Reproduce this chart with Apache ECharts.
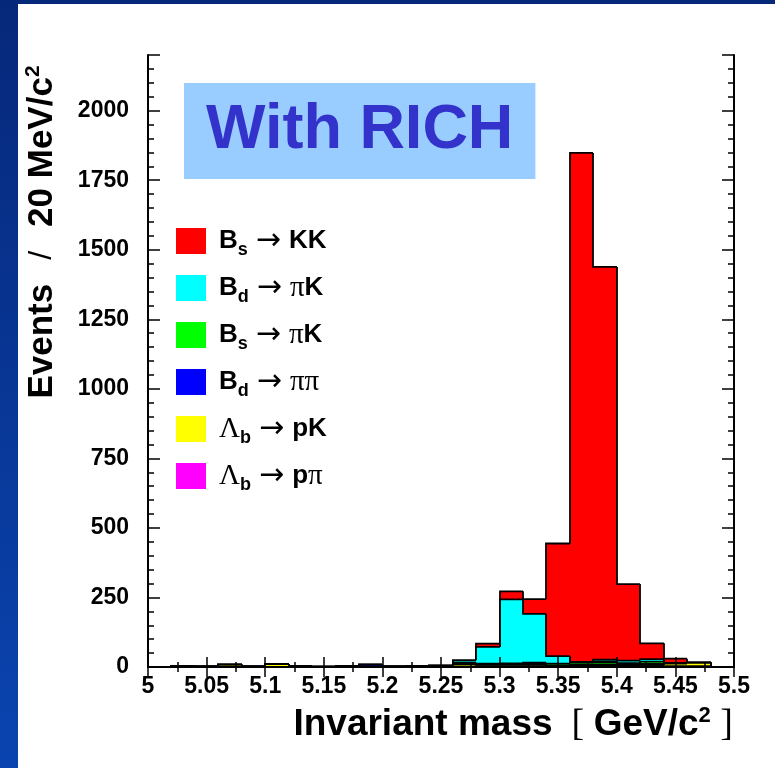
<!DOCTYPE html>
<html>
<head>
<meta charset="utf-8">
<script src="https://cdn.jsdelivr.net/npm/echarts@6/dist/echarts.min.js"></script>
<style>
  html, body { margin: 0; padding: 0; background: #fff; }
  #chart { width: 775px; height: 768px; }
</style>
</head>
<body>
<div id="chart"></div>
<script>
// bin lower edges (GeV/c^2), 20 MeV/c^2 wide
const binWidth = 0.02;
const binLow = [5.00, 5.02, 5.04, 5.06, 5.08, 5.10, 5.12, 5.14, 5.16, 5.18,
                5.20, 5.22, 5.24, 5.26, 5.28, 5.30, 5.32, 5.34, 5.36, 5.38,
                5.40, 5.42, 5.44, 5.46, 5.48];

// events per bin for each channel
const bsKK   = [0, 0, 0, 0, 0, 0, 0, 0, 0, 0, 0, 4, 0, 0, 12, 29, 53, 405, 1830, 1412, 275, 57, 16, 2, 0];
const bdPiK  = [0, 0, 0, 0, 0, 0, 0, 0, 0, 0, 0, 0, 0, 8, 60, 230, 175, 27, 2, 8, 9, 9, 0, 0, 0];
const bsPiK  = [0, 0, 0, 0, 0, 0, 0, 0, 0, 0, 0, 0, 0, 6, 4, 5, 5, 6, 8, 9, 4, 8, 2, 0, 0];
const bdPiPi = [0, 3, 2, 0, 2, 0, 3, 1, 3, 8, 2, 0, 2, 0, 0, 0, 3, 2, 3, 4, 3, 4, 0, 0, 0];
const lbPK   = [0, 0, 0, 8, 0, 10, 0, 0, 0, 0, 0, 0, 0, 8, 5, 5, 5, 4, 5, 5, 5, 5, 9, 12, 0];
const lbPPi  = [0, 0, 0, 0, 0, 0, 0, 0, 0, 0, 0, 0, 3, 2, 3, 3, 3, 0, 0, 0, 2, 2, 3, 3, 0];

// y ticks
const yMax = 2200;
const yMajor = 250;
const yMinor = 50;

// legend order = drawing order (top of stack first, like THStack)
const channels = [
  { name: 'Bs→KK',  values: bsKK,   color: '#ff0000', label: '{b|B}{s|s}{ar|→}{b|KK}' },
  { name: 'Bd→πK',  values: bdPiK,  color: '#00ffff', label: '{b|B}{s|d}{ar|→}{g|π}{b|K}' },
  { name: 'Bs→πK',  values: bsPiK,  color: '#00ff00', label: '{b|B}{s|s}{ar|→}{g|π}{b|K}' },
  { name: 'Bd→ππ',  values: bdPiPi, color: '#0000ff', label: '{b|B}{s|d}{ar|→}{g|ππ}' },
  { name: 'Λb→pK',  values: lbPK,   color: '#ffff00', label: '{g|Λ}{s|b}{ar|→}{b|pK}' },
  { name: 'Λb→pπ',  values: lbPPi,  color: '#ff00ff', label: '{g|Λ}{s|b}{ar|→}{b|p}{g|π}' }
];

// each channel is drawn as the cumulative sum of itself and all channels below it
const series = channels.map((ch, i) => {
  const below = channels.slice(i);
  const cum = binLow.map((_, k) => below.reduce((s, c) => s + c.values[k], 0));
  return {
    name: ch.name,
    type: 'custom',
    itemStyle: { color: ch.color },
    clip: true,
    encode: { x: [0, 1], y: 2 },
    data: binLow.map((lo, k) => [lo, lo + binWidth, cum[k], k > 0 ? cum[k - 1] : 0, k === binLow.length - 1 ? 1 : 0]),
    renderItem: renderBin
  };
});

function renderBin(params, api) {
  const lo = api.value(0), hi = api.value(1), top = api.value(2), prev = api.value(3), last = api.value(4);
  const pBase = api.coord([lo, 0]);
  const pTop = api.coord([hi, top]);
  const pPrev = api.coord([lo, prev]);
  // snap x edges so neighbouring bins share a pixel edge (no seams)
  const x0 = Math.round(pBase[0]), x1 = Math.round(pTop[0]);
  const children = [];
  if (top > 0) {
    children.push({
      type: 'rect',
      shape: { x: x0, y: pTop[1], width: x1 - x0, height: pBase[1] - pTop[1] },
      style: { fill: api.visual('color') }
    });
  }
  const pts = [[x0, pPrev[1]], [x0, pTop[1]], [x1, pTop[1]]];
  if (last) pts.push([x1, pBase[1]]);
  children.push({ type: 'polyline', shape: { points: pts }, style: { stroke: '#000', lineWidth: 1.8, fill: null } });
  return { type: 'group', children };
}

const black = '#000';
const axisLine = { show: true, lineStyle: { color: black, width: 2 } };
const font = 'Liberation Sans';

function yAxisDef(pos, interval, tickLen, labels) {
  return {
    type: 'value', position: pos, min: 0, max: yMax, interval: interval, z: 5,
    axisLine: tickLen > 8 ? axisLine : { show: false },
    axisTick: { show: true, inside: true, length: tickLen, lineStyle: { color: black, width: 1.5 } },
    axisLabel: labels ? {
      show: true, margin: 19, fontSize: 23, fontWeight: 'bold', fontFamily: font, color: black,
      formatter: v => (v % yMajor === 0 ? String(v) : '')
    } : { show: false },
    splitLine: { show: false }
  };
}

function xAxisDef(pos, labels) {
  return {
    type: 'value', position: pos, min: 5, max: 5.5, interval: 0.05, z: 5,
    axisLine: axisLine,
    axisTick: { show: true, inside: true, length: 10, lineStyle: { color: black, width: 1.5 } },
    minorTick: { show: true, splitNumber: 2, length: 5, lineStyle: { color: black, width: 1.5 } },
    axisLabel: labels ? {
      show: true, margin: 8, fontSize: 23, fontWeight: 'bold', fontFamily: font, color: black,
      showMinLabel: true, showMaxLabel: true,
      formatter: v => String(parseFloat(v.toFixed(2)))
    } : { show: false },
    splitLine: { show: false }
  };
}

const chart = echarts.init(document.getElementById('chart'));
chart.setOption({
  backgroundColor: '#fff',
  animation: false,
  title: {
    text: 'With RICH',
    left: 184, top: 83,
    backgroundColor: '#99ccff',
    padding: [0, 22],
    textStyle: { fontSize: 63, fontWeight: 'bold', fontFamily: font, color: '#3333cc', lineHeight: 96 }
  },
  legend: {
    orient: 'vertical',
    left: 176, top: 226, padding: 0,
    itemWidth: 30, itemHeight: 26, itemGap: 14,
    icon: 'rect',
    selectedMode: false,
    formatter: name => channels.find(c => c.name === name).label,
    textStyle: {
      color: black,
      padding: [0, 0, 0, 8],
      rich: {
        b: { fontSize: 26, fontWeight: 'bold', fontFamily: font, color: black, lineHeight: 36 },
        s: { fontSize: 18, fontWeight: 'bold', fontFamily: font, color: black, lineHeight: 10, verticalAlign: 'bottom' },
        ar: { fontSize: 30, fontFamily: 'DejaVu Sans', color: black, lineHeight: 36, padding: [0, 8, 0, 8] },
        g: { fontSize: 29, fontFamily: 'Liberation Serif', color: black, lineHeight: 36 }
      }
    },
    data: channels.map(c => c.name)
  },
  grid: { left: 148, right: 41, top: 55, bottom: 101, containLabel: false },
  xAxis: [xAxisDef('bottom', true), xAxisDef('top', false)],
  yAxis: [
    yAxisDef('left', yMajor, 12, true),
    yAxisDef('left', yMinor, 6, false),
    yAxisDef('right', yMajor, 12, false),
    yAxisDef('right', yMinor, 6, false)
  ],
  series: series,
  graphic: [
    {
      type: 'rect', left: 0, top: 0, z: 10,
      shape: { width: 18, height: 768 },
      style: { fill: new echarts.graphic.LinearGradient(0, 0, 0, 1, [
        { offset: 0, color: '#06287a' }, { offset: 1, color: '#0a44b0' }
      ]) }
    },
    { type: 'rect', left: 0, top: 0, z: 10, shape: { width: 775, height: 4 }, style: { fill: '#06287a' } },
    {
      // x axis title
      type: 'text', x: 733, y: 725, z: 10,
      style: {
        text: '{t|Invariant mass}{br|  [ }{t|GeV/c}{sup|2}{br| ]}',
        textAlign: 'right', textVerticalAlign: 'middle', align: 'right', verticalAlign: 'middle',
        rich: {
          t: { fontSize: 37, fontWeight: 'bold', fontFamily: font, fill: black, lineHeight: 40 },
          br: { fontSize: 38, fontFamily: 'Liberation Serif', fill: black, lineHeight: 40 },
          sup: { fontSize: 22, fontWeight: 'bold', fontFamily: font, fill: black, lineHeight: 10, verticalAlign: 'top' }
        }
      }
    },
    {
      // y axis title
      type: 'text', x: 42, y: 232, rotation: Math.PI / 2, z: 10,
      style: {
        text: '{t|Events}{sl|/}{t|20 MeV/c}{sup|2}',
        textAlign: 'center', textVerticalAlign: 'middle', align: 'center', verticalAlign: 'middle',
        rich: {
          t: { fontSize: 35, fontWeight: 'bold', fontFamily: font, fill: black, lineHeight: 38 },
          sl: { fontSize: 32, fontFamily: font, fill: black, lineHeight: 38, padding: [0, 24, 0, 24] },
          sup: { fontSize: 21, fontWeight: 'bold', fontFamily: font, fill: black, lineHeight: 10, verticalAlign: 'top' }
        }
      }
    }
  ]
});
</script>
</body>
</html>
